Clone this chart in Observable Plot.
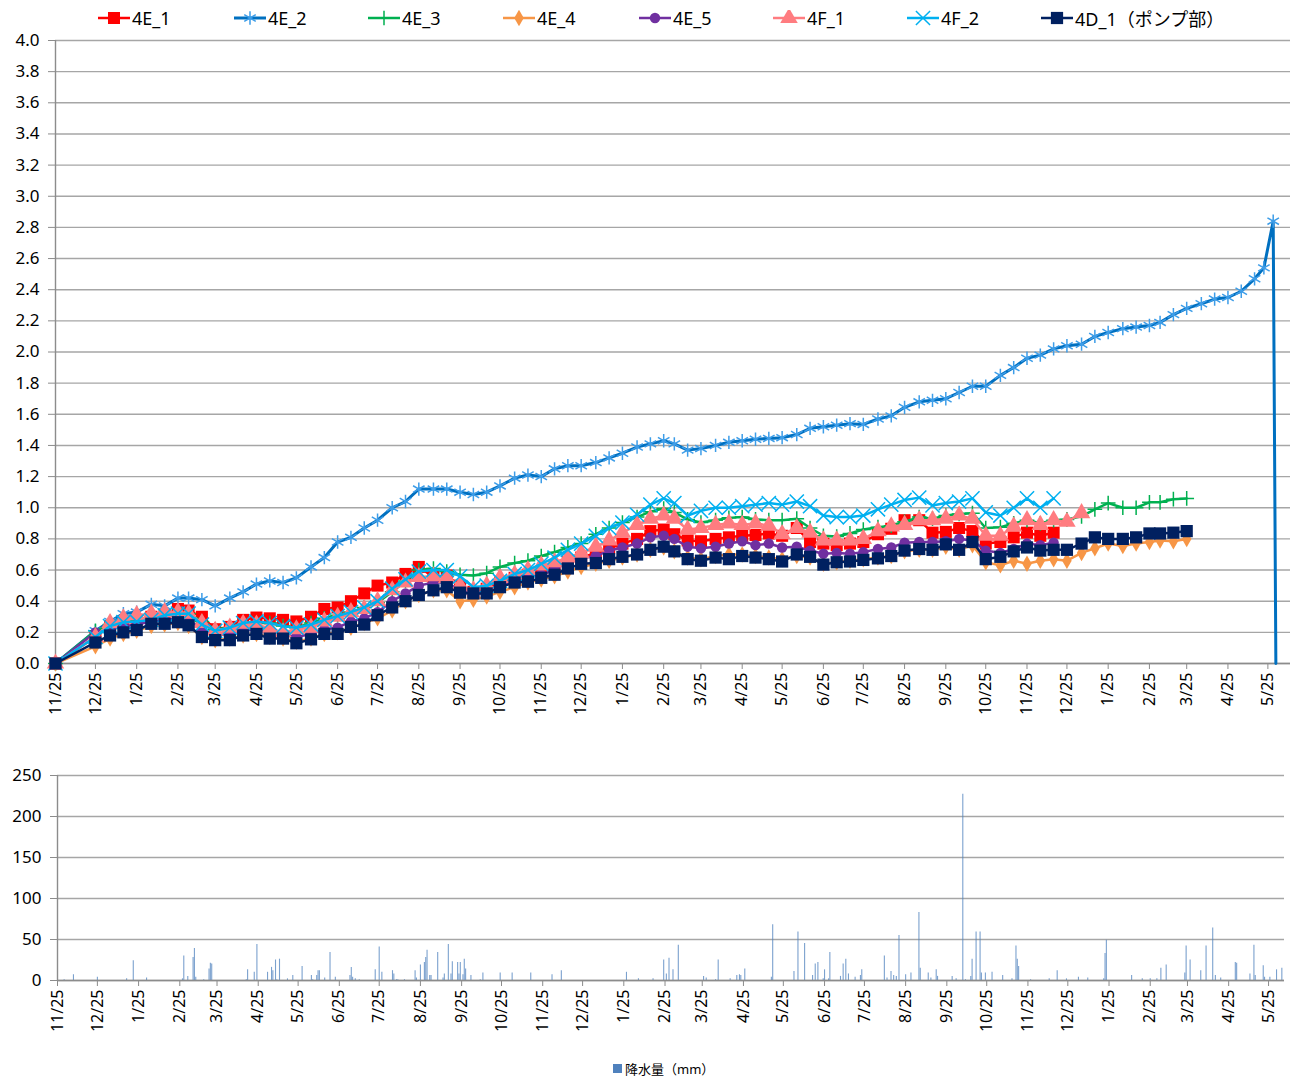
<!DOCTYPE html>
<html><head><meta charset="utf-8">
<script src="https://cdn.jsdelivr.net/npm/d3@7"></script>
<script src="https://cdn.jsdelivr.net/npm/@observablehq/plot@0.6"></script>
<style>
body{margin:0;background:#fff;}
#wrap{position:relative;width:1294px;height:1080px;font-family:"Noto Sans","Noto Sans CJK JP",sans-serif;color:#000;}
.leg{position:absolute;top:5px;display:flex;align-items:center;font-size:18px;white-space:nowrap;height:26px;}
.leg svg{margin-right:2px;}
</style></head><body>
<div id="wrap">
  <div id="legend"></div>
  <div id="top" style="position:absolute;left:0;top:32px"></div>
  <div id="bottom" style="position:absolute;left:0;top:762px"></div>
  <div id="rainLegend" style="position:absolute;left:613px;top:1059px;font-size:13px;display:flex;align-items:center;"></div>
</div>
<script>
// ---------- DATA ----------
const obsDates = [
"2016-11-25","2016-12-25",
"2017-01-05","2017-01-15","2017-01-25","2017-02-05","2017-02-15","2017-02-25","2017-03-05","2017-03-15","2017-03-25",
"2017-04-05","2017-04-15","2017-04-25","2017-05-05","2017-05-15","2017-05-25","2017-06-05","2017-06-15","2017-06-25",
"2017-07-05","2017-07-15","2017-07-25","2017-08-05","2017-08-15","2017-08-25","2017-09-05","2017-09-15","2017-09-25",
"2017-10-05","2017-10-15","2017-10-25","2017-11-05","2017-11-15","2017-11-25","2017-12-05","2017-12-15","2017-12-25",
"2018-01-05","2018-01-15","2018-01-25","2018-02-05","2018-02-15","2018-02-25","2018-03-05","2018-03-15","2018-03-25",
"2018-04-05","2018-04-15","2018-04-25","2018-05-05","2018-05-15","2018-05-25","2018-06-05","2018-06-15","2018-06-25",
"2018-07-05","2018-07-15","2018-07-25","2018-08-05","2018-08-15","2018-08-25","2018-09-05","2018-09-15","2018-09-25",
"2018-10-05","2018-10-15","2018-10-25","2018-11-05","2018-11-15","2018-11-25","2018-12-05","2018-12-15","2018-12-25",
"2019-01-05","2019-01-15","2019-01-25","2019-02-05","2019-02-15","2019-02-25","2019-03-05","2019-03-15","2019-03-25",
"2019-04-05","2019-04-15","2019-04-25","2019-05-05","2019-05-15","2019-05-22","2019-05-29","2019-05-31"
];

const seriesNames = ["4E_1","4E_2","4E_3","4E_4","4E_5","4F_1","4F_2","4D_1（ポンプ部）"];

const v4E_1 = [0,0.17,
 0.24,0.27,0.28, 0.30,0.31,0.35, 0.34,0.30,0.22, 0.235,0.28,0.295, 0.29,0.28,0.27, 0.30,0.35,0.36,
 0.40,0.45,0.50, 0.52,0.575,0.62, 0.555,0.565,0.50, 0.46,0.48,0.52, 0.55,0.57,0.59, 0.62,0.65,0.68,
 0.71,0.74,0.77, 0.80,0.85,0.86, 0.83,0.79,0.785, 0.80,0.81,0.82, 0.825,0.835,0.82, 0.87,0.78,0.77,
 0.76,0.77,0.78, 0.83,0.865,0.92, 0.92,0.84,0.845, 0.87,0.85,0.77, 0.78,0.81,0.84, 0.82,0.84];

const v4E_2 = [0,0.21,
 0.27,0.32,0.33, 0.38,0.37,0.42, 0.42,0.41,0.37, 0.42,0.46,0.51, 0.53,0.52,0.55, 0.62,0.68,0.78,
 0.81,0.87,0.92, 1.0,1.04,1.12, 1.12,1.12,1.10, 1.085,1.10,1.14, 1.19,1.21,1.20, 1.25,1.27,1.27,
 1.29,1.32,1.35, 1.39,1.41,1.43, 1.41,1.37,1.38, 1.40,1.42,1.43, 1.44,1.445,1.45, 1.47,1.51,1.52,
 1.53,1.54,1.535, 1.57,1.59,1.645, 1.68,1.69,1.70, 1.74,1.78,1.78, 1.85,1.90,1.96, 1.98,2.02,2.04,
 2.05,2.10,2.125, 2.15,2.16,2.17, 2.19,2.24,2.28, 2.31,2.34,2.35, 2.39,2.47,2.54, 2.84,0];

const v4E_3 = [0,0.21,
 0.25,0.27,0.28, 0.29,0.31,0.32, 0.32,0.27,0.22, 0.23,0.25,0.26, 0.26,0.24,0.23, 0.26,0.29,0.31,
 0.33,0.36,0.39, 0.46,0.53,0.60, 0.61,0.59,0.57, 0.565,0.58,0.62, 0.645,0.66,0.69, 0.715,0.745,0.77,
 0.83,0.87,0.905, 0.94,0.975,0.995, 0.97,0.925,0.905, 0.92,0.935,0.94, 0.925,0.92,0.92, 0.93,0.87,0.82,
 0.815,0.835,0.86, 0.875,0.885,0.91, 0.94,0.93,0.95, 0.96,0.965,0.87, 0.875,0.90,0.92, 0.90,0.92,0.925,
 0.945,0.99,1.03, 1.0,1.0,1.035, 1.035,1.055,1.06];

const v4E_4 = [0,0.11,
 0.16,0.19,0.21, 0.24,0.25,0.26, 0.24,0.17,0.15, 0.16,0.18,0.19, 0.17,0.16,0.14, 0.16,0.19,0.20,
 0.23,0.26,0.29, 0.34,0.40,0.44, 0.47,0.47,0.40, 0.41,0.43,0.46, 0.49,0.52,0.54, 0.56,0.59,0.62,
 0.64,0.66,0.68, 0.70,0.73,0.745, 0.72,0.68,0.67, 0.69,0.70,0.70, 0.69,0.68,0.67, 0.69,0.68,0.64,
 0.65,0.66,0.67, 0.68,0.69,0.72, 0.73,0.73,0.75, 0.73,0.76,0.65, 0.63,0.66,0.64, 0.66,0.67,0.66,
 0.71,0.74,0.77, 0.755,0.77,0.78, 0.79,0.785,0.80];

const v4E_5 = [0,0.20,
 0.22,0.24,0.25, 0.27,0.28,0.29, 0.28,0.22,0.18, 0.19,0.21,0.22, 0.20,0.19,0.17, 0.19,0.22,0.23,
 0.27,0.29,0.33, 0.40,0.45,0.50, 0.52,0.52,0.47, 0.45,0.46,0.50, 0.53,0.55,0.57, 0.60,0.66,0.675,
 0.69,0.725,0.745, 0.77,0.81,0.82, 0.80,0.75,0.74, 0.75,0.77,0.785, 0.76,0.77,0.745, 0.75,0.725,0.705,
 0.71,0.705,0.715, 0.735,0.745,0.775, 0.78,0.78,0.785, 0.80,0.79,0.725, 0.71,0.735,0.77, 0.76,0.775];

const v4F_1 = [0,0.17,
 0.26,0.29,0.31, 0.32,0.33,0.33, 0.32,0.26,0.21, 0.23,0.255,0.25, 0.225,0.20,0.22, 0.23,0.27,0.30,
 0.33,0.35,0.40, 0.47,0.52,0.555, 0.56,0.55,0.50, 0.47,0.50,0.55, 0.57,0.60,0.63, 0.65,0.68,0.71,
 0.75,0.79,0.84, 0.89,0.93,0.95, 0.93,0.86,0.87, 0.89,0.90,0.89, 0.90,0.885,0.83, 0.87,0.84,0.79,
 0.79,0.79,0.80, 0.85,0.88,0.89, 0.92,0.92,0.93, 0.95,0.93,0.82, 0.82,0.88,0.92, 0.89,0.92,0.91,
 0.965];

const v4F_2 = [0,0.17,
 0.24,0.265,0.27, 0.28,0.31,0.32, 0.32,0.25,0.21, 0.23,0.26,0.27, 0.26,0.24,0.23, 0.25,0.28,0.305,
 0.33,0.36,0.40, 0.48,0.54,0.59, 0.60,0.60,0.56, 0.49,0.50,0.53, 0.575,0.60,0.64, 0.68,0.73,0.77,
 0.82,0.87,0.905, 0.955,1.02,1.06, 1.03,0.95,0.98, 1.0,1.0,1.01, 1.02,1.03,1.02, 1.04,1.01,0.95,
 0.94,0.94,0.95, 0.99,1.02,1.05, 1.065,1.015,1.03, 1.04,1.06,0.97, 0.95,1.0,1.06, 1.0,1.06];

const v4D_1 = [0,0.135,
 0.18,0.20,0.215, 0.255,0.255,0.265, 0.245,0.17,0.15, 0.15,0.18,0.19, 0.16,0.16,0.13, 0.155,0.19,0.19,
 0.235,0.25,0.31, 0.36,0.40,0.44, 0.47,0.49,0.455, 0.45,0.45,0.49, 0.52,0.525,0.55, 0.57,0.61,0.64,
 0.645,0.67,0.685, 0.70,0.73,0.75, 0.72,0.67,0.66, 0.68,0.67,0.69, 0.68,0.67,0.655, 0.70,0.685,0.635,
 0.65,0.655,0.665, 0.675,0.69,0.725, 0.735,0.73,0.765, 0.73,0.78,0.67, 0.685,0.72,0.745, 0.725,0.73,0.73,
 0.77,0.81,0.80, 0.80,0.81,0.835, 0.835,0.84,0.85];

// precipitation: [day number counted from 2016-11-25, mm]
const rainStart = "2016-11-25";
const rain = [
[5,1],[12,7],[30,4],[52,2],[57,24],[67,3],[94,2],[95,30],[98,5],[102,28],[103,39],[104,4],[110,1],[114,14],[115,21],[116,20],
[142,1],[143,13],[148,10],[150,44],[158,10],[161,16],[162,12],[164,25],[165,1],[167,26],[173,2],[177,6],[184,17],[191,6],[192,1],
[195,6],[196,12],[197,12],[201,3],[205,34],[209,4],[220,6],[221,16],[222,4],[224,2],[227,1],[239,13],[242,41],[244,10],[252,12],
[253,8],[255,1],[256,1],[261,1],[269,12],[270,3],[273,19],[276,22],[277,28],[278,37],[280,6],[281,6],[286,34],[290,3],[291,8],
[294,44],[296,8],[297,23],[301,22],[302,8],[303,22],[305,7],[306,26],[307,14],[311,6],[318,1],[320,9],[333,9],[342,9],[356,9],
[372,7],[379,12],[428,10],[437,2],[448,2],[456,25],[458,8],[460,27],[463,13],[467,43],[486,5],[488,3],[495,1],[497,25],[506,2],
[511,6],[513,7],[514,6],[517,14],[537,4],[538,68],[554,11],[557,59],[562,45],[568,6],[570,20],[572,22],[576,2],[577,13],[580,2],
[581,34],[589,5],[591,20],[593,26],[595,8],[600,4],[604,6],[605,13],[622,30],[624,3],[627,11],[629,6],[631,5],[633,55],[638,7],
[642,9],[648,83],[649,15],[655,9],[657,3],[661,13],[662,5],[673,5],[676,2],[681,227],[683,1],[687,5],[688,26],[691,59],[694,59],
[695,9],[698,9],[703,10],[711,6],[718,2],[721,42],[722,26],[723,17],[732,1],[746,2],[752,12],[759,2],[768,4],[775,3],[787,2],
[788,33],[789,49],[808,6],[816,2],[822,2],[827,2],[830,15],[834,19],[848,9],[849,42],[852,25],[860,12],[864,42],[869,64],[871,6],
[875,3],[886,22],[887,21],[897,8],[900,43],[901,6],[907,18],[908,4],[912,4],[917,13],[921,15]
];

const monthTicks = [
"2016-11-25","2016-12-25","2017-01-25","2017-02-25","2017-03-25","2017-04-25","2017-05-25","2017-06-25","2017-07-25",
"2017-08-25","2017-09-25","2017-10-25","2017-11-25","2017-12-25","2018-01-25","2018-02-25","2018-03-25","2018-04-25",
"2018-05-25","2018-06-25","2018-07-25","2018-08-25","2018-09-25","2018-10-25","2018-11-25","2018-12-25","2019-01-25",
"2019-02-25","2019-03-25","2019-04-25","2019-05-25"];
const levelTicks = [0,0.2,0.4,0.6,0.8,1.0,1.2,1.4,1.6,1.8,2.0,2.2,2.4,2.6,2.8,3.0,3.2,3.4,3.6,3.8,4.0];
const rainTicks = [0,50,100,150,200,250];
const xStart = "2016-11-25", xEndTop = "2019-06-11", xEndBottom = "2019-06-06";

// ---------- STYLE ----------
const FONT = '"Noto Sans","Noto Sans CJK JP",sans-serif';
const styles = [
  {color:"#FF0000", symbol:"square", r:6.8, filled:true, w:2.5},
  {color:"#0070C0", mcolor:"#3d9de8", symbol:"asterisk", r:6.3, filled:false, w:3},
  {color:"#00B050", symbol:"plus", r:4.8, filled:false, w:2.5},
  {color:"#F79646", symbol:"diamond", r:5, filled:true, w:2.5},
  {color:"#7030A0", symbol:"circle", r:5.2, filled:true, w:2.5},
  {color:"#FF7C80", symbol:"triangle", r:6.5, filled:true, w:2.5},
  {color:"#00B0F0", symbol:"times", r:6.5, filled:false, w:2.5},
  {color:"#002060", symbol:"square", r:6.9, filled:true, w:2.5}
];
const allVals = [v4E_1, v4E_2, v4E_3, v4E_4, v4E_5, v4F_1, v4F_2, v4D_1];

const parse = d3.utcParse("%Y-%m-%d");
const fmt = d => `${d.getUTCMonth()+1}/25`;
const ticks = monthTicks.map(parse);
const gridCol = "#a6a6a6", axisCol = "#8c8c8c";

const seriesMarks = [];
allVals.forEach((vals, k) => {
  const s = styles[k];
  const pts = vals.map((v, i) => ({date: parse(obsDates[i]), v}));
  seriesMarks.push(Plot.line(pts, {x:"date", y:"v", stroke:s.color, strokeWidth:s.w, strokeLinejoin:"round"}));
  const dotPts = pts.filter((p, i) => !(i > 0 && p.v === 0));
  const mc = s.mcolor || s.color;
  seriesMarks.push(Plot.dot(dotPts, s.filled
    ? {x:"date", y:"v", symbol:s.symbol, r:s.r, fill:mc, stroke:"none"}
    : {x:"date", y:"v", symbol:s.symbol, r:s.r, stroke:mc, strokeWidth:1.5, fill:"none"}));
});

const topChart = Plot.plot({
  width:1294, height:730, marginLeft:55, marginRight:4, marginTop:8, marginBottom:99,
  style:{fontFamily:FONT, fontSize:"16px", color:"#000", background:"transparent", overflow:"visible"},
  x:{type:"utc", domain:[parse(xStart), parse(xEndTop)]},
  y:{domain:[0,4]},
  marks:[
    Plot.gridY(levelTicks, {stroke:gridCol, strokeOpacity:1, strokeWidth:1.4}),
    Plot.axisY(levelTicks, {tickFormat:d3.format(".1f"), tickSize:7, tickPadding:9, stroke:axisCol, fill:"#000", fontSize:17, label:null}),
    Plot.axisX(ticks, {tickFormat:fmt, tickRotate:-90, tickSize:6, tickPadding:3, stroke:axisCol, fill:"#000", fontSize:16, label:null}),
    Plot.ruleX([parse(xStart)], {stroke:axisCol, strokeWidth:1.4}),
    Plot.ruleY([0], {stroke:axisCol, strokeWidth:1.4}),
    ...seriesMarks
  ]
});
document.getElementById("top").append(topChart);

const rainData = rain.map(([d, mm]) => ({date: d3.utcDay.offset(parse(rainStart), d), mm}));
const botTicks = ticks.filter(t => t <= parse(xEndBottom));
const bottomChart = Plot.plot({
  width:1294, height:290, marginLeft:57, marginRight:10, marginTop:13, marginBottom:72,
  style:{fontFamily:FONT, fontSize:"16px", color:"#000", background:"transparent", overflow:"visible"},
  x:{type:"utc", domain:[parse(xStart), parse(xEndBottom)]},
  y:{domain:[0,250]},
  marks:[
    Plot.gridY(rainTicks, {stroke:gridCol, strokeOpacity:1, strokeWidth:1.4}),
    Plot.axisY(rainTicks, {tickSize:7, tickPadding:9, stroke:axisCol, fill:"#000", fontSize:17, label:null}),
    Plot.axisX(botTicks, {tickFormat:fmt, tickRotate:-90, tickSize:6, tickPadding:3, stroke:axisCol, fill:"#000", fontSize:16, label:null}),
    Plot.ruleX(rainData, {x:"date", y1:0, y2:"mm", stroke:"#4F81BD", strokeWidth:1.1, strokeOpacity:0.75}),
    Plot.ruleX([parse(xStart)], {stroke:axisCol, strokeWidth:1.4}),
    Plot.ruleY([0], {stroke:axisCol, strokeWidth:1.4})
  ]
});
document.getElementById("bottom").append(bottomChart);

// ---------- LEGENDS ----------
const legLeft = [98,234,368,503,639,773,907,1041];
const symMap = {square:d3.symbolSquare, asterisk:d3.symbolAsterisk, plus:d3.symbolPlus, diamond:d3.symbolDiamond,
  circle:d3.symbolCircle, triangle:d3.symbolTriangle, times:d3.symbolTimes};
const legend = document.getElementById("legend");
seriesNames.forEach((name, k) => {
  const s = styles[k];
  const item = document.createElement("div");
  item.className = "leg";
  item.style.left = legLeft[k] + "px";
  const path = d3.symbol(symMap[s.symbol], Math.PI*s.r*s.r)();
  const mc = s.mcolor || s.color;
  item.innerHTML = `<svg width="32" height="16" viewBox="0 0 32 16"><line x1="0" y1="8" x2="32" y2="8" stroke="${s.color}" stroke-width="${s.w}"/>`
    + `<path transform="translate(16,8)" d="${path}" ${s.filled ? `fill="${mc}"` : `fill="none" stroke="${mc}" stroke-width="1.5"`}/></svg><span>${name}</span>`;
  legend.append(item);
});
document.getElementById("rainLegend").innerHTML =
  `<span style="display:inline-block;width:9px;height:9px;background:#4F81BD;margin-right:3px"></span><span>降水量（mm）</span>`;
</script>
</body></html>
